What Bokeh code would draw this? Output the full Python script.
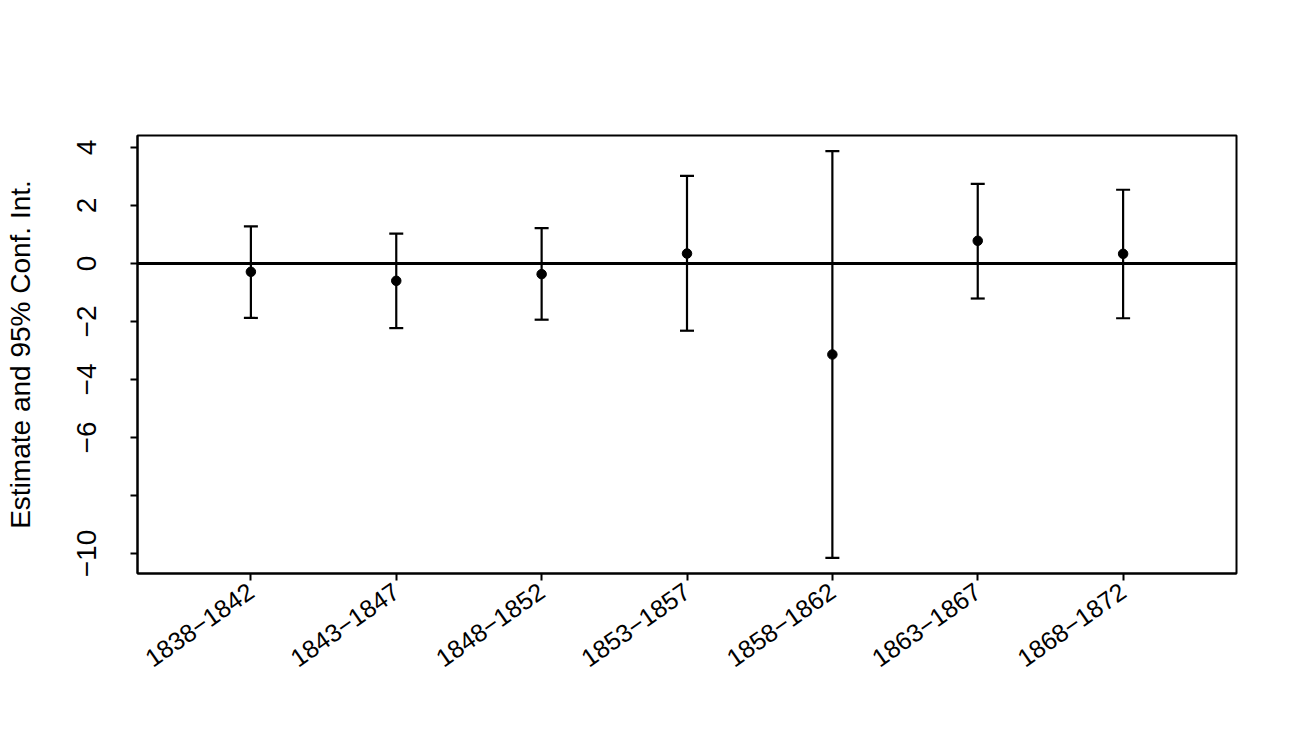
import math
from bokeh.plotting import figure
from bokeh.models import ColumnDataSource, Range1d, FixedTicker, Whisker, TeeHead, Span
from bokeh.embed import file_html
from bokeh.resources import INLINE

periods = ["1838\u22121842", "1843\u22121847", "1848\u22121852", "1853\u22121857",
           "1858\u22121862", "1863\u22121867", "1868\u22121872"]
estimate = [-0.29, -0.60, -0.37, 0.34, -3.14, 0.78, 0.33]
lower = [-1.88, -2.23, -1.94, -2.32, -10.15, -1.21, -1.89]
upper = [1.28, 1.03, 1.22, 3.02, 3.87, 2.74, 2.54]
y_ticks = [4, 2, 0, -2, -4, -6, -8, -10]
y_tick_labels = {4: "4", 2: "2", 0: "0", -2: "\u22122", -4: "\u22124", -6: "\u22126",
                 -8: "", -10: "\u221210"}

xpos = list(range(1, len(periods) + 1))
src = ColumnDataSource(dict(x=xpos, est=estimate, lo=lower, hi=upper))

FONT = "Liberation Sans"

p = figure(width=1298, height=737, output_backend="svg", toolbar_location=None,
           x_range=Range1d(0.22, 7.78), y_range=Range1d(-10.69, 4.41),
           frame_width=1099, frame_height=438,
           min_border_left=137, min_border_right=62, min_border_top=135, min_border_bottom=164)
p.grid.visible = False
p.outline_line_color = "black"
p.outline_line_width = 2
p.background_fill_color = "white"
p.border_fill_color = "white"

p.add_layout(Span(location=0, dimension="width", line_color="black", line_width=3))

w = Whisker(source=src, base="x", lower="lo", upper="hi", line_color="black", line_width=2.2,
            upper_head=TeeHead(size=14, line_color="black", line_width=2.2),
            lower_head=TeeHead(size=14, line_color="black", line_width=2.2))
p.add_layout(w)

p.scatter("x", "est", source=src, size=9.5, color="black")

xa = p.xaxis[0]
xa.ticker = FixedTicker(ticks=xpos)
xa.major_label_overrides = {i: lab for i, lab in zip(xpos, periods)}
xa.major_label_orientation = math.radians(35)
xa.major_tick_out = 7
xa.major_tick_in = 0
xa.minor_tick_line_color = None
xa.major_tick_line_width = 2
xa.axis_line_width = 2
xa.major_label_text_font = FONT
xa.major_label_text_font_size = "25px"
xa.major_label_text_color = "black"
xa.major_label_standoff = 8

ya = p.yaxis[0]
ya.ticker = FixedTicker(ticks=y_ticks)
ya.major_label_overrides = y_tick_labels
ya.major_label_orientation = "vertical"
ya.major_tick_out = 7
ya.major_tick_in = 0
ya.minor_tick_line_color = None
ya.major_tick_line_width = 2
ya.axis_line_width = 2
ya.major_label_text_font = FONT
ya.major_label_text_font_size = "28px"
ya.major_label_text_color = "black"
ya.major_label_standoff = 34
ya.axis_label = "Estimate and 95% Conf. Int."
ya.axis_label_text_font = FONT
ya.axis_label_text_font_size = "28px"
ya.axis_label_text_font_style = "normal"
ya.axis_label_text_color = "black"
ya.axis_label_standoff = 39

open("out.html", "w").write(file_html(p, INLINE))
